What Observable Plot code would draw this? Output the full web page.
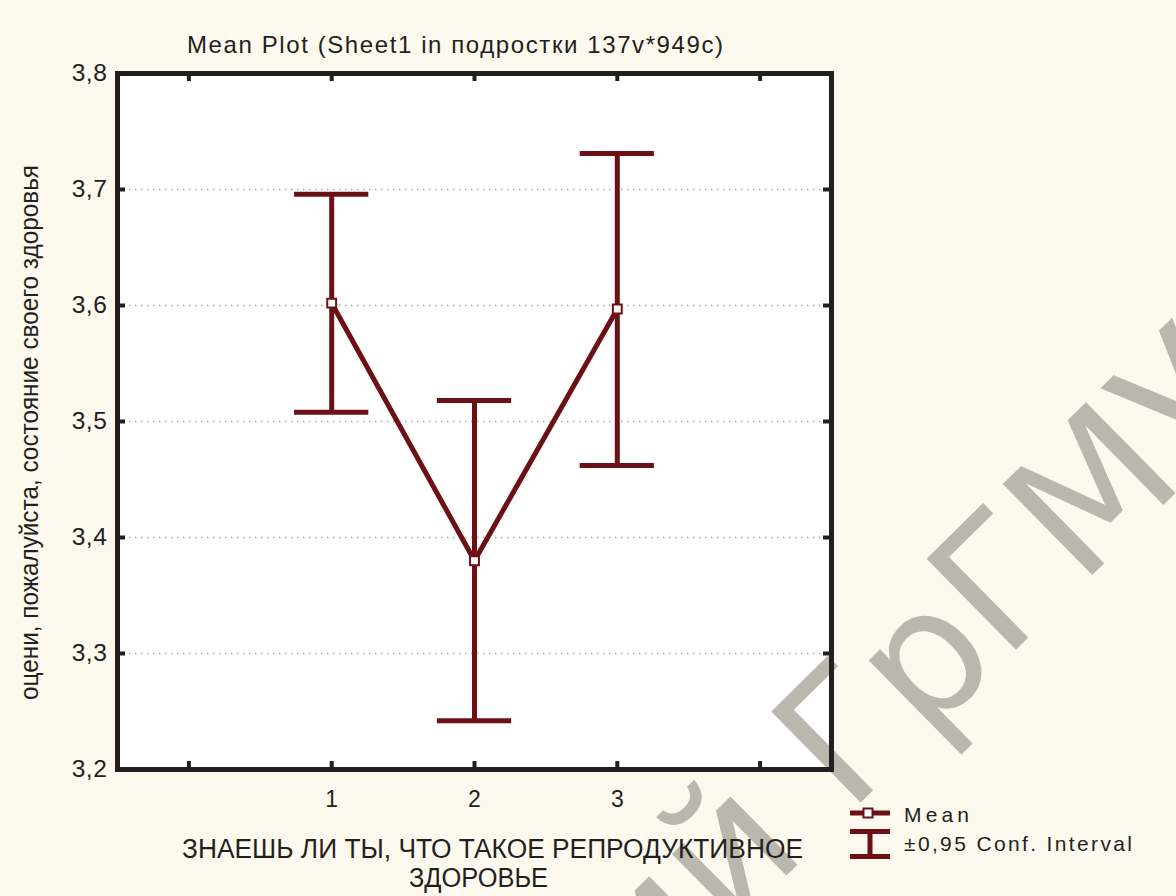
<!DOCTYPE html>
<html>
<head>
<meta charset="utf-8">
<script src="https://cdn.jsdelivr.net/npm/d3@7"></script>
<script src="https://cdn.jsdelivr.net/npm/@observablehq/plot@0.6"></script>
<style>
  html, body { margin: 0; padding: 0; background: #fdf9ee; overflow: hidden; }
  #chart { position: relative; width: 1176px; height: 896px; }
</style>
</head>
<body>
<div id="chart"></div>
<script>
// ---- data ----
const categories = [1, 2, 3];
const means   = [3.602, 3.380, 3.597];
const ciLower = [3.508, 3.242, 3.462];
const ciUpper = [3.696, 3.518, 3.731];
const yTicks = [3.2, 3.3, 3.4, 3.5, 3.6, 3.7, 3.8];
const xTicks = [0, 1, 2, 3, 4];
const xTickLabels = [1, 2, 3];
const titleText = "Mean Plot (Sheet1 in подростки 137v*949c)";
const xLabelLines = ["ЗНАЕШЬ ЛИ ТЫ, ЧТО ТАКОЕ РЕПРОДУКТИВНОЕ", "ЗДОРОВЬЕ"];
const yLabelText = "оцени, пожалуйста, состояние своего здоровья";
const legendLabels = ["Mean", "±0,95 Conf. Interval"];
const watermarkParts = ["Репозиторий ", "ГрГМУ"];

const rows = categories.map((c, i) => ({cat: c, mean: means[i], lo: ciLower[i], hi: ciUpper[i]}));

const W = 1176, H = 896;
const mL = 117, mR = 345, mT = 73, mB = 127;
const plotW = W - mL - mR, plotH = H - mT - mB;
const maroon = "#6d1015";
const ink = "#231f20";
const capHalf = 0.26;
const fmt = d => d.toFixed(1).replace(".", ",");
const wmFill = "#b9b7ae";
const wmFont = "'DejaVu Sans', Verdana, sans-serif";

const chart = Plot.plot({
  width: W, height: H,
  marginLeft: mL, marginRight: mR, marginTop: mT, marginBottom: mB,
  style: {background: "#fdf9ee", color: ink, fontFamily: "'Liberation Sans', Arial, sans-serif"},
  x: {domain: [-0.5, 4.5]},
  y: {domain: [3.2, 3.8]},
  marks: [
    Plot.frame({fill: "white", stroke: null}),
    // watermark
    Plot.text([watermarkParts[1]], {frameAnchor: "bottom-left", text: d => d, dx: 731, dy: 45, rotate: -44.5,
      fontSize: 175, fontFamily: wmFont, textAnchor: "start", lineAnchor: "bottom", fill: wmFill}),
    Plot.text([watermarkParts[0]], {frameAnchor: "bottom-left", text: d => d, dx: 731, dy: 45, rotate: -44.5,
      fontSize: 175, fontFamily: wmFont, textAnchor: "end", lineAnchor: "bottom", fill: wmFill}),
    Plot.gridY(yTicks.slice(1, -1), {stroke: "#a8a8a8", strokeOpacity: 1, strokeWidth: 1.5, strokeDasharray: "1.5,4.5"}),
    // inward ticks
    Plot.tickY(yTicks, {y: d => d, insetRight: plotW - 8, stroke: ink, strokeWidth: 4}),
    Plot.tickY(yTicks, {y: d => d, insetLeft: plotW - 8, stroke: ink, strokeWidth: 4}),
    Plot.tickX(xTicks, {x: d => d, insetTop: plotH - 8, stroke: ink, strokeWidth: 4}),
    Plot.tickX(xTicks, {x: d => d, insetBottom: plotH - 8, stroke: ink, strokeWidth: 4}),
    // error bars
    Plot.ruleX(rows, {x: "cat", y1: "lo", y2: "hi", stroke: maroon, strokeWidth: 5}),
    Plot.ruleY(rows, {y: "hi", x1: d => d.cat - capHalf, x2: d => d.cat + capHalf, stroke: maroon, strokeWidth: 5}),
    Plot.ruleY(rows, {y: "lo", x1: d => d.cat - capHalf, x2: d => d.cat + capHalf, stroke: maroon, strokeWidth: 5}),
    // mean line + markers
    Plot.line(rows, {x: "cat", y: "mean", stroke: maroon, strokeWidth: 5}),
    Plot.dot(rows, {x: "cat", y: "mean", symbol: "square", r: 5, fill: "white", stroke: maroon, strokeWidth: 2}),
    Plot.frame({stroke: ink, strokeWidth: 5}),
    Plot.axisY(yTicks, {tickSize: 0, tickPadding: 10, tickFormat: fmt, label: null, fill: ink}),
    Plot.axisX(xTickLabels, {tickSize: 0, tickPadding: 21, tickFormat: d => String(d), label: null, fill: ink})
  ]
});

document.getElementById("chart").appendChild(chart);

const svg = d3.select(chart);
svg.selectAll('g[aria-label="y-axis tick label"]').attr("font-size", 24.5).style("letter-spacing", "0.6px");
svg.selectAll('g[aria-label="x-axis tick label"]').attr("font-size", 23);

function addText(x, y, size, len, adjust, str, transform) {
  const t = svg.append("text")
    .attr("font-size", size).attr("fill", ink).attr("text-anchor", "start")
    .attr("textLength", len).attr("lengthAdjust", adjust).text(str);
  if (transform) t.attr("transform", transform); else t.attr("x", x).attr("y", y);
  return t;
}

// title
addText(187, 53, 24, 536, "spacing", titleText);
// x label (two lines)
addText(182, 858, 27, 621, "spacingAndGlyphs", xLabelLines[0]);
addText(409, 887, 27, 139, "spacingAndGlyphs", xLabelLines[1]);
// y label
addText(0, 0, 26, 535, "spacingAndGlyphs", yLabelText, "translate(38,700) rotate(-90)");

// legend
const lg = svg.append("g");
lg.append("line").attr("x1", 850).attr("x2", 890).attr("y1", 813).attr("y2", 813).attr("stroke", maroon).attr("stroke-width", 5);
lg.append("rect").attr("x", 863.5).attr("y", 808.5).attr("width", 9).attr("height", 9).attr("fill", "white").attr("stroke", maroon).attr("stroke-width", 2);
lg.append("line").attr("x1", 850).attr("x2", 890).attr("y1", 831.5).attr("y2", 831.5).attr("stroke", maroon).attr("stroke-width", 5);
lg.append("line").attr("x1", 850).attr("x2", 890).attr("y1", 856.5).attr("y2", 856.5).attr("stroke", maroon).attr("stroke-width", 5);
lg.append("line").attr("x1", 870).attr("x2", 870).attr("y1", 831.5).attr("y2", 856.5).attr("stroke", maroon).attr("stroke-width", 5);
addText(904, 822, 21, 65, "spacing", legendLabels[0]);
addText(904, 851, 21, 228, "spacing", legendLabels[1]);
</script>
</body>
</html>
